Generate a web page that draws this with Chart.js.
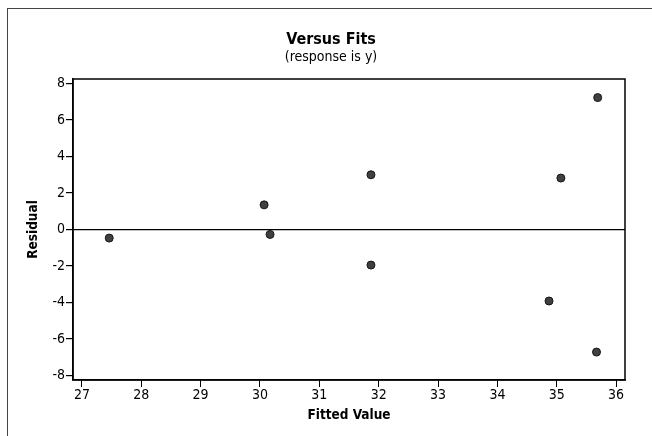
<!DOCTYPE html>
<html>
<head>
<meta charset="utf-8">
<script src="https://cdn.jsdelivr.net/npm/chart.js@4"></script>
<style>
    body { margin: 0; background: #fff; }
    #frame { position: absolute; left: 7px; top: 8px; width: 660px; height: 440px; border-left: 1.5px solid #444; border-top: 1.5px solid #444; }
    #wrap { position: absolute; left: 0; top: 0; width: 652px; height: 436px; }
</style>
</head>
<body>
<div id="frame"></div>
<div id="wrap"><canvas id="grafico"></canvas></div>
<script>
    // valores
    let fits = [27.46, 30.07, 30.17, 31.87, 31.87, 34.87, 35.07, 35.67, 35.69]
    let residuals = [-0.47, 1.35, -0.27, 3.00, -1.95, -3.92, 2.82, -6.72, 7.23]
    let xTicks = [27, 28, 29, 30, 31, 32, 33, 34, 35, 36]
    let yTicks = [-8, -6, -4, -2, 0, 2, 4, 6, 8]

    let fonte = '"DejaVu Sans Condensed", "DejaVu Sans"'

    // moldura em volta da area do grafico
    const caixa = {
        id: 'caixa',
        afterDraw(chart) {
            let a = chart.chartArea
            let ctx = chart.ctx
            ctx.save()
            ctx.strokeStyle = '#000'
            ctx.lineWidth = 1.5
            ctx.strokeRect(a.left, a.top, a.right - a.left, a.bottom - a.top)
            ctx.restore()
        }
    }

    let ctx = document.getElementById('grafico')
    new Chart(ctx, {
        type: 'scatter',
        data: {
            datasets: [{
                label: 'Residual',
                data: fits.map((f, i) => ({ x: f, y: residuals[i] })),
                pointRadius: 4,
                pointHoverRadius: 4,
                backgroundColor: '#404040',
                borderColor: '#151515',
                borderWidth: 1
            }]
        },
        options: {
            responsive: true,
            maintainAspectRatio: false,
            animation: false,
            // left - right = 10 para centrar o titulo em ~331px
            layout: { padding: { left: 37, right: 27, top: 0, bottom: 0 } },
            plugins: {
                legend: { display: false },
                tooltip: { enabled: false },
                title: {
                    display: true,
                    text: 'Versus Fits',
                    color: '#000',
                    font: { family: fonte, size: 16, weight: 'bold' },
                    padding: { top: 30, bottom: 0 }
                },
                subtitle: {
                    display: true,
                    text: '(response is y)',
                    color: '#000',
                    font: { family: fonte, size: 14 },
                    padding: { top: 0, bottom: 13 }
                }
            },
            scales: {
                x: {
                    type: 'linear',
                    min: 26.85,
                    max: 36.15,
                    offset: false,
                    afterBuildTicks: axis => { axis.ticks = xTicks.map(v => ({ value: v })) },
                    afterFit: scale => { scale.height = 56 },
                    ticks: {
                        color: '#000',
                        font: { family: fonte, size: 14 },
                        padding: 0,
                        maxRotation: 0,
                        autoSkip: false
                    },
                    grid: {
                        drawOnChartArea: false,
                        tickColor: '#000',
                        tickLength: 7
                    },
                    border: { display: true, color: '#000', width: 1.5 },
                    title: {
                        display: true,
                        text: 'Fitted Value',
                        color: '#000',
                        font: { family: fonte, size: 13.5, weight: 'bold' },
                        padding: { top: 0, bottom: 12 }
                    }
                },
                y: {
                    min: -8.25,
                    max: 8.25,
                    afterBuildTicks: axis => { axis.ticks = yTicks.map(v => ({ value: v })) },
                    afterFit: scale => { scale.width = 36 },
                    ticks: {
                        color: '#000',
                        font: { family: fonte, size: 14 },
                        padding: 1
                    },
                    grid: {
                        color: c => c.tick && c.tick.value === 0 ? '#000' : 'rgba(0,0,0,0)',
                        lineWidth: 1.2,
                        tickColor: '#000',
                        tickLength: 7
                    },
                    border: { display: true, color: '#000', width: 1.5 },
                    title: {
                        display: true,
                        text: 'Residual',
                        color: '#000',
                        font: { family: fonte, size: 13.5, weight: 'bold' },
                        padding: { top: -12, bottom: 0 }
                    }
                }
            }
        },
        plugins: [caixa]
    });
</script>
</body>
</html>
